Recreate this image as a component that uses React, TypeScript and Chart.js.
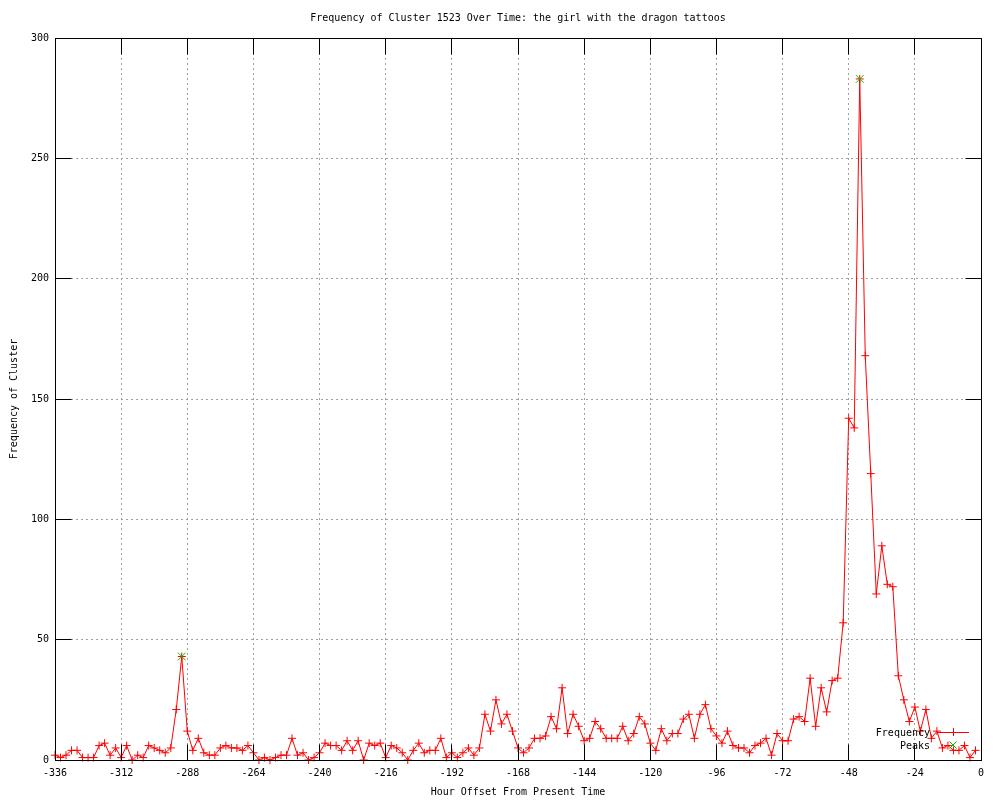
import React, { useEffect, useRef } from "react";
import { Chart, registerables } from "chart.js";

Chart.register(...registerables);

const TITLE = "Frequency of Cluster 1523 Over Time: the girl with the dragon tattoos";
const X_TITLE = "Hour Offset From Present Time";
const Y_TITLE = "Frequency of Cluster";
const SERIES_FREQ = "Frequency";
const SERIES_PEAKS = "Peaks";

// hours of the first sample and the sampling step (hours)
const HOUR_START = -336;
const HOUR_STEP = 2;

// Frequency values, one per 2-hour bin from -336 to -2
const FREQUENCY = [
  2, 1, 2, 4, 4, 1, 1, 1, 6, 7, 2, 5,
  1, 6, 0, 2, 1, 6, 5, 4, 3, 5, 21, 43,
  12, 4, 9, 3, 2, 2, 5, 6, 5, 5, 4, 6,
  3, 0, 1, 0, 1, 2, 2, 9, 2, 3, 0, 1,
  3, 7, 6, 6, 4, 8, 4, 8, 0, 7, 6, 7,
  1, 6, 5, 3, 0, 4, 7, 3, 4, 4, 9, 1,
  3, 1, 3, 5, 2, 5, 19, 12, 25, 15, 19, 12,
  5, 3, 5, 9, 9, 10, 18, 13, 30, 11, 19, 14,
  8, 9, 16, 13, 9, 9, 9, 14, 8, 11, 18, 15,
  7, 4, 13, 8, 11, 11, 17, 19, 9, 19, 23, 13,
  10, 7, 12, 6, 5, 5, 3, 6, 7, 9, 2, 11,
  8, 8, 17, 18, 16, 34, 14, 30, 20, 33, 34, 57,
  142, 138, 283, 168, 119, 69, 89, 73, 72, 35, 25, 16,
  22, 12, 21, 9, 12, 5, 6, 4, 4, 6, 1, 4,
];

const PEAK_HOURS = [-290, -44];
const PEAK_VALUES = [43, 283];

const X_MIN = -336;
const X_MAX = 0;
const X_STEP = 24;
const Y_MIN = 0;
const Y_MAX = 300;
const Y_STEP = 50;

const FONT_FAMILY = '"DejaVu Sans Mono", "Liberation Mono", monospace';
const RED = "#ff0000";
const GREEN = "#00c000";
const GRID = "#a0a0a0";

const align = (p: number) => Math.round(p - 0.5) + 0.5;

const framePlugin = {
  id: "gnuFrame",
  afterDraw(chart: any) {
    const { ctx, chartArea } = chart;
    const { left, right, top, bottom } = chartArea;
    const xs = chart.scales.x;
    const ys = chart.scales.y;
    const L = align(left);
    const R = align(right);
    const T = align(top);
    const B = align(bottom);
    const TICK = 16;
    ctx.save();
    ctx.strokeStyle = "#000";
    ctx.lineWidth = 1;
    ctx.setLineDash([]);
    ctx.beginPath();
    ctx.rect(L, T, R - L, B - T);
    xs.ticks.forEach((t: any) => {
      const px = align(xs.getPixelForValue(t.value));
      ctx.moveTo(px, B);
      ctx.lineTo(px, B - TICK);
      ctx.moveTo(px, T);
      ctx.lineTo(px, T + TICK);
    });
    ys.ticks.forEach((t: any) => {
      const py = align(ys.getPixelForValue(t.value));
      ctx.moveTo(L, py);
      ctx.lineTo(L + TICK, py);
      ctx.moveTo(R, py);
      ctx.lineTo(R - TICK, py);
    });
    ctx.stroke();

    // legend (gnuplot style, bottom right inside the plot)
    const textRight = right - 51;
    const row1 = bottom - 28;
    const row2 = bottom - 15;
    const sampleL = right - 44;
    const sampleR = right - 12;
    const sampleC = right - 28;
    ctx.font = `10px ${FONT_FAMILY}`;
    ctx.fillStyle = "#000";
    ctx.textAlign = "right";
    ctx.textBaseline = "middle";
    ctx.fillText(SERIES_FREQ, textRight, row1 + 1);
    ctx.fillText(SERIES_PEAKS, textRight, row2 + 1);

    ctx.strokeStyle = RED;
    ctx.beginPath();
    ctx.moveTo(sampleL, align(row1));
    ctx.lineTo(sampleR, align(row1));
    ctx.moveTo(align(sampleC), row1 - 4);
    ctx.lineTo(align(sampleC), row1 + 4);
    ctx.stroke();

    ctx.strokeStyle = GREEN;
    ctx.beginPath();
    ctx.moveTo(sampleC - 3.5, row2 - 3.5);
    ctx.lineTo(sampleC + 3.5, row2 + 3.5);
    ctx.moveTo(sampleC + 3.5, row2 - 3.5);
    ctx.lineTo(sampleC - 3.5, row2 + 3.5);
    ctx.stroke();
    ctx.restore();
  },
};

export default function App() {
  const canvasRef = useRef<HTMLCanvasElement | null>(null);

  useEffect(() => {
    document.body.style.margin = "0";
    const canvas = canvasRef.current;
    if (!canvas) return;

    const freqData = FREQUENCY.map((v, i) => ({ x: HOUR_START + i * HOUR_STEP, y: v }));
    const peakData = PEAK_HOURS.map((h, i) => ({ x: h, y: PEAK_VALUES[i] }));

    Chart.defaults.font.family = FONT_FAMILY;
    Chart.defaults.font.size = 10;
    Chart.defaults.color = "#000";

    const chart = new Chart(canvas, {
      type: "line",
      data: {
        datasets: [
          {
            label: SERIES_PEAKS,
            data: peakData,
            showLine: false,
            borderColor: GREEN,
            backgroundColor: GREEN,
            pointStyle: "crossRot",
            pointRadius: 5.5,
            pointBorderWidth: 1,
            order: 0,
            clip: false,
          },
          {
            label: SERIES_FREQ,
            data: freqData,
            borderColor: RED,
            backgroundColor: RED,
            borderWidth: 1,
            pointStyle: "cross",
            pointRadius: 4,
            pointBorderWidth: 1,
            tension: 0,
            order: 1,
            clip: false,
          },
        ],
      },
      options: {
        animation: false,
        responsive: false,
        devicePixelRatio: 1,
        events: [],
        layout: { padding: { left: 0, right: 19, top: 0, bottom: 0 } },
        plugins: {
          legend: { display: false },
          tooltip: { enabled: false },
          title: {
            display: true,
            text: TITLE,
            fullSize: false,
            color: "#000",
            font: { family: FONT_FAMILY, size: 10, weight: "normal" },
            padding: { top: 12, bottom: 14 },
          },
        },
        scales: {
          x: {
            type: "linear",
            min: X_MIN,
            max: X_MAX,
            afterFit: (scale: any) => {
              scale.height = 40;
            },
            ticks: {
              stepSize: X_STEP,
              autoSkip: false,
              maxRotation: 0,
              padding: 7,
              color: "#000",
              font: { family: FONT_FAMILY, size: 10 },
            },
            grid: {
              color: GRID,
              lineWidth: 1,
              drawTicks: false,
            },
            border: { display: true, color: "#000", dash: [2, 3] },
            title: {
              display: true,
              text: X_TITLE,
              color: "#000",
              font: { family: FONT_FAMILY, size: 10 },
              padding: { top: 0, bottom: 2 },
            },
          },
          y: {
            type: "linear",
            min: Y_MIN,
            max: Y_MAX,
            afterFit: (scale: any) => {
              scale.width = 55;
            },
            ticks: {
              stepSize: Y_STEP,
              padding: 6,
              color: "#000",
              font: { family: FONT_FAMILY, size: 10 },
            },
            grid: {
              color: GRID,
              lineWidth: 1,
              drawTicks: false,
            },
            border: { display: true, color: "#000", dash: [2, 3] },
            title: {
              display: true,
              text: Y_TITLE,
              color: "#000",
              font: { family: FONT_FAMILY, size: 10 },
              padding: { top: 8, bottom: 0 },
            },
          },
        },
      },
      plugins: [framePlugin],
    });

    return () => {
      chart.destroy();
    };
  }, []);

  return (
    <div style={{ width: 1000, height: 800, background: "#fff" }}>
      <canvas ref={canvasRef} width={1000} height={800} style={{ display: "block" }} />
    </div>
  );
}
